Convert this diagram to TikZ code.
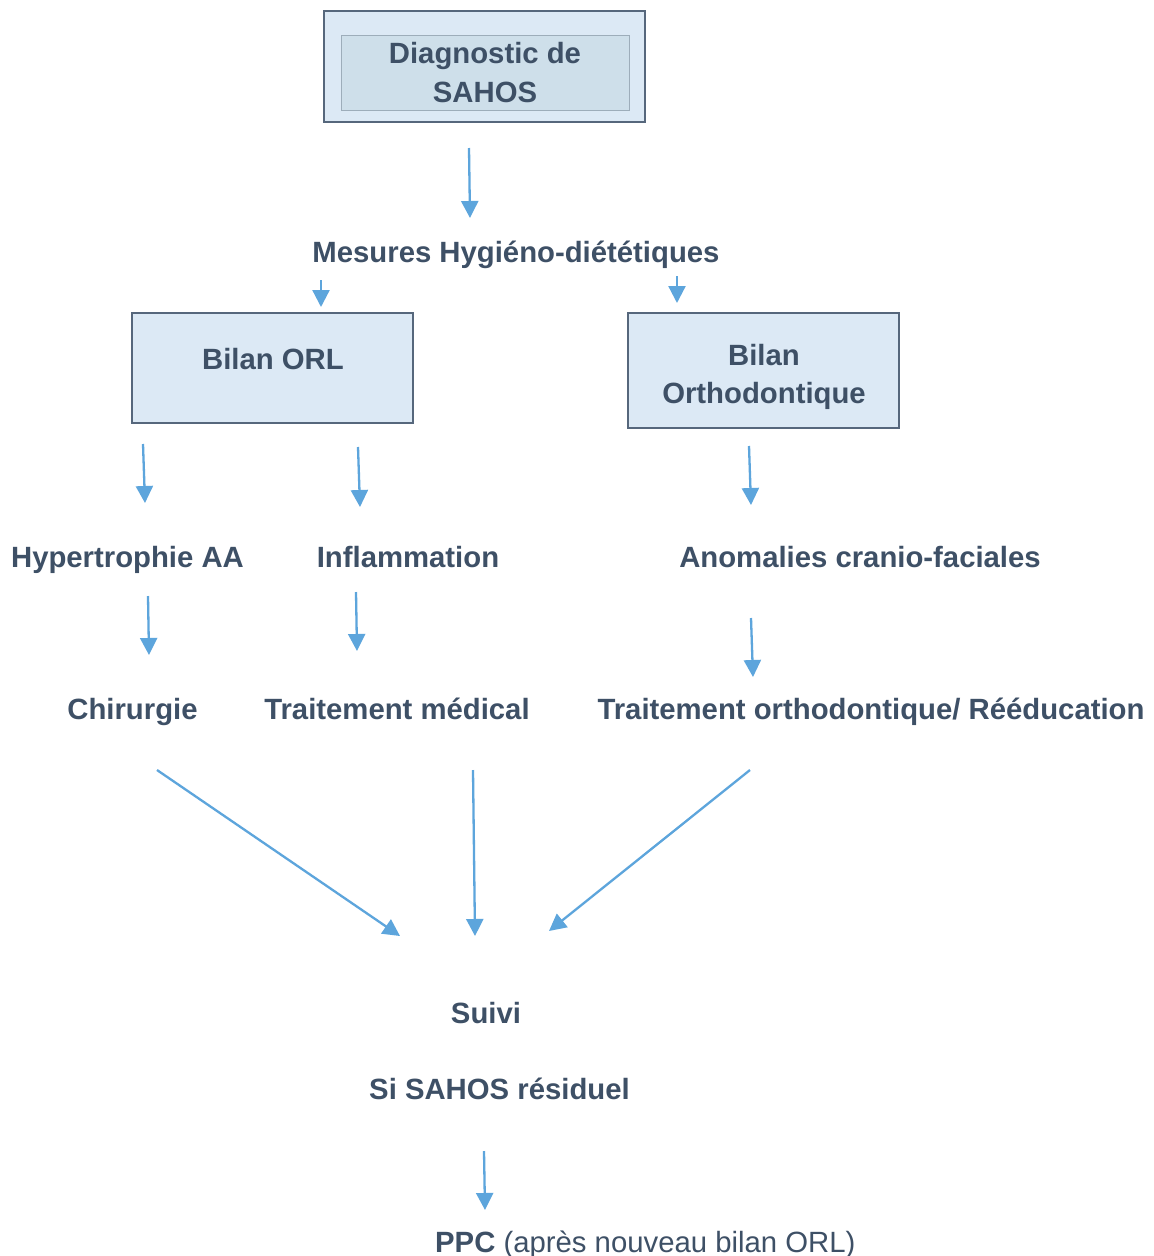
\documentclass[tikz,border=0pt]{standalone}
\usepackage{fontspec}
\setmainfont{Liberation Sans}
\usetikzlibrary{arrows.meta}
\definecolor{txt}{HTML}{3E5066}
\definecolor{boxfill}{HTML}{DCE9F5}
\definecolor{boxdraw}{HTML}{56677C}
\definecolor{innerfill}{HTML}{CEDFEA}
\definecolor{innerdraw}{HTML}{9DADBA}
\definecolor{arr}{HTML}{5DA5DC}
\begin{document}
\begin{tikzpicture}[x=1pt,y=-1pt,
  lbl/.style={text=txt,font=\fontsize{29.3}{38}\selectfont\bfseries,inner sep=0pt,anchor=base},
  boxnode/.style={draw=boxdraw,fill=boxfill,line width=2.5pt,inner sep=0pt},
  conn/.style={draw=arr,line width=2.3pt,-{Triangle[width=17pt,length=17pt]}}]
\useasboundingbox[fill=white] (0,0) rectangle (1154,1256);

% boxes
\node[boxnode,minimum width=321pt,minimum height=111pt] (diagbox) at (484.5,66.5) {};
\node[draw=innerdraw,fill=innerfill,line width=1pt,minimum width=288pt,minimum height=75pt,inner sep=0pt] (diaginner) at (485,73) {};
\node[boxnode,minimum width=281pt,minimum height=110pt] (orlbox) at (272.5,368) {};
\node[boxnode,minimum width=271pt,minimum height=115pt] (orthobox) at (763.5,370.5) {};

% texts
\node[lbl] (diag1) at (485,63.5) {Diagnostic de};
\node[lbl] (diag2) at (485,102.5) {SAHOS};
\node[lbl] (mhd) at (516,262.5) {Mesures Hygiéno-diététiques};
\node[lbl] (orl) at (273,369.5) {Bilan ORL};
\node[lbl] (ortho1) at (764,365.5) {Bilan};
\node[lbl] (ortho2) at (764,403.5) {Orthodontique};
\node[lbl] (hyp) at (127.5,567.5) {Hypertrophie AA};
\node[lbl] (infl) at (408,567.5) {Inflammation};
\node[lbl] (anom) at (860,567.5) {Anomalies cranio-faciales};
\node[lbl] (chir) at (132.5,719.5) {Chirurgie};
\node[lbl] (tmed) at (397,719.5) {Traitement médical};
\node[lbl] (tortho) at (871,719.5) {Traitement orthodontique/ Rééducation};
\node[lbl] (suivi) at (486,1023.5) {Suivi};
\node[lbl] (resid) at (499.5,1099.5) {Si SAHOS résiduel};
\node[lbl,anchor=base west] (ppc) at (435,1252) {PPC \mdseries(après nouveau bilan ORL)};

% arrow end points
\coordinate (a1s) at (469,148);  \coordinate (a1e) at (470,218);
\coordinate (a2s) at (321,280);  \coordinate (a2e) at (321,307);
\coordinate (a3s) at (677,276);  \coordinate (a3e) at (677,303);
\coordinate (a4s) at (143,444);  \coordinate (a4e) at (145,503);
\coordinate (a5s) at (358,447);  \coordinate (a5e) at (360,507);
\coordinate (a6s) at (749,446);  \coordinate (a6e) at (751,505);
\coordinate (a7s) at (148,596);  \coordinate (a7e) at (149,655);
\coordinate (a8s) at (356,592);  \coordinate (a8e) at (357,651);
\coordinate (a9s) at (751,618);  \coordinate (a9e) at (753,677);
\coordinate (b1s) at (157,770);  \coordinate (b1e) at (400,936);
\coordinate (b2s) at (473,770);  \coordinate (b2e) at (475,936);
\coordinate (b3s) at (750,770);  \coordinate (b3e) at (549,931);
\coordinate (c1s) at (484,1151); \coordinate (c1e) at (485,1210);

\foreach \a in {a1,a2,a3,a4,a5,a6,a7,a8,a9,b1,b2,b3,c1}
  \draw[conn] (\a s) -- (\a e);
\end{tikzpicture}
\end{document}
